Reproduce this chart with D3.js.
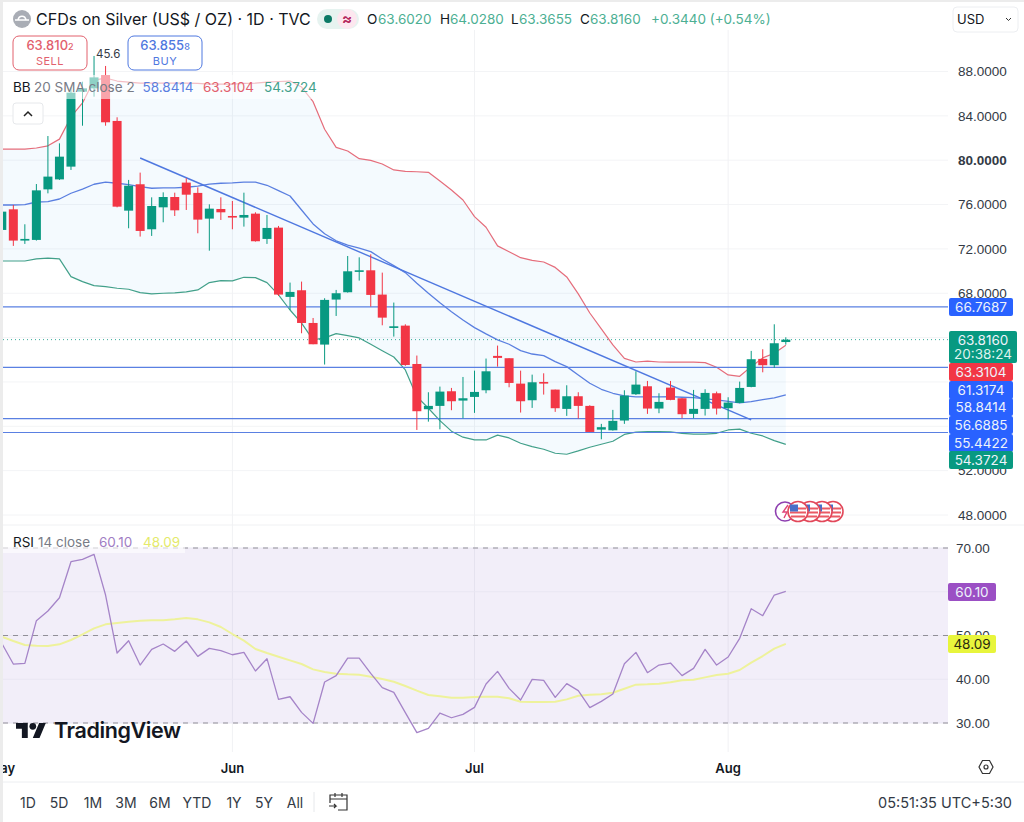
<!DOCTYPE html>
<html lang="en">
<head>
<meta charset="UTF-8">
<title>CFDs on Silver</title>
<script src="https://cdnjs.cloudflare.com/ajax/libs/d3/7.8.5/d3.min.js"></script>
<style>
    html, body { margin: 0; padding: 0; background: #fff; }
    svg { display: block; font-family: Inter, "Noto Sans", sans-serif; }
    text { fill: #333a45; }
</style>
</head>
<body>
<svg id="chart" width="1024" height="822"></svg>
<script>
// daily bars
const opens = [73.71,75.57,72.75,72.81,77.37,78.27,79.42,86.18,86.48,87.68,
    83.54,75.45,77.83,73.77,75.75,76.68,77.98,77.05,74.73,75.60,
    74.97,74.82,75.18,72.90,73.92,67.67,68.27,65.32,63.37,67.43,
    68.09,69.95,70.07,67.88,64.87,65.08,61.62,57.54,57.84,59.16,
    58.32,58.65,59.25,62.35,62.14,59.85,58.35,60.00,59.31,57.57,
    58.71,57.84,55.70,55.64,56.52,58.89,59.61,57.60,59.49,58.53,
    57.12,57.57,58.98,57.63,58.11,59.55,62.08,61.51,63.60];
const closes = [75.36,72.75,72.90,77.28,78.52,80.32,86.09,86.48,87.47,83.42,
    75.81,77.70,73.62,75.87,76.68,75.48,76.89,74.64,75.63,75.30,
    74.85,75.06,72.69,73.89,67.88,68.12,65.32,63.40,67.40,68.00,
    69.98,70.07,67.85,65.80,65.02,61.53,57.36,57.84,59.13,58.26,
    58.53,59.10,60.96,62.17,59.91,58.26,59.97,59.85,57.63,58.71,
    57.84,55.49,55.92,56.49,58.77,59.76,57.60,58.20,58.38,57.09,
    57.57,59.01,57.60,58.14,59.46,62.05,61.51,63.49,63.816];
const highs = [75.50,75.96,74.22,77.85,82.18,81.52,86.57,87.08,89.40,88.50,
    83.87,78.22,78.88,76.65,77.10,77.07,78.37,77.55,76.02,76.65,
    76.32,77.07,75.30,75.06,74.07,68.96,69.05,65.77,67.55,68.30,
    71.36,71.24,71.51,69.86,67.16,65.20,62.38,59.07,59.58,59.46,
    60.45,61.02,62.11,63.28,62.14,61.02,60.66,60.78,59.31,59.70,
    59.07,57.90,56.22,57.48,59.25,60.96,60.09,58.98,60.09,58.53,
    59.28,59.34,59.13,58.62,60.03,62.80,62.95,65.20,64.028];
const lows = [73.60,72.27,72.45,72.75,77.01,78.22,79.12,83.11,85.73,83.11,
    75.75,73.86,73.11,73.17,74.40,74.97,75.51,73.41,71.84,74.61,
    73.77,74.01,72.66,72.45,67.76,66.49,64.39,63.40,61.57,65.95,
    68.06,69.14,66.79,65.11,64.09,61.45,55.67,56.42,55.73,57.45,
    56.73,57.21,58.98,61.38,59.52,57.24,57.66,58.86,57.30,56.94,
    56.70,55.49,54.83,55.61,56.22,58.83,57.12,57.18,58.35,56.73,
    56.73,56.97,57.06,56.64,58.08,59.52,60.87,61.27,63.3655];

// bollinger bands
const bbUpper = [81.0,81.0,81.0,81.1,81.3,81.9,83.9,85.16,87.23,87.41,
    87.14,87.05,86.96,86.96,86.96,86.96,86.96,86.92,86.87,86.87,
    86.87,86.92,86.96,87.05,87.1,87.14,86.6,85.28,82.79,81.16,
    80.83,80.14,79.99,79.66,79.12,79.0,78.96,78.91,78.12,77.31,
    76.41,74.91,73.95,72.27,71.75,71.21,70.96,70.82,70.33,69.47,
    67.94,66.22,64.78,63.34,62.12,61.8,61.87,61.8,61.78,61.78,
    61.78,61.74,61.33,60.63,60.51,61.38,62.17,62.59,63.3104];
const bbBasis = [75.96,75.96,75.99,76.23,76.26,76.5,77.02,77.4,77.83,78.03,
    77.92,77.79,77.61,77.47,77.5,77.5,77.56,77.67,77.85,77.92,
    77.95,78.03,78.03,77.74,77.25,76.77,75.51,74.25,73.37,72.73,
    72.35,72.06,71.75,71.09,70.49,69.86,68.9,68.0,67.15,66.34,
    65.59,64.9,64.33,63.79,63.4,62.82,62.52,62.37,61.83,61.38,
    60.63,59.88,59.34,58.98,58.74,58.65,58.65,58.65,58.67,58.62,
    58.59,58.47,58.38,58.24,58.11,58.23,58.41,58.56,58.8414];
const bbLower = [70.91,70.91,70.91,71.1,71.16,71.1,69.5,69.05,68.69,68.6,
    68.45,68.36,68.05,67.94,68.0,68.03,68.12,68.3,68.96,69.14,
    69.11,69.44,69.41,68.96,67.85,66.49,65.3,63.79,63.97,64.36,
    64.18,63.97,63.4,62.82,62.25,61.08,58.67,57.63,56.51,55.56,
    55.02,54.77,54.77,55.2,54.95,54.47,54.17,53.93,53.57,53.48,
    53.78,54.11,54.38,54.65,55.27,55.47,55.52,55.52,55.49,55.37,
    55.29,55.29,55.37,55.67,55.74,55.37,55.13,54.71,54.3724];

// rsi pane
const rsiValues = [48.2,43.48,43.63,53.39,55.6,58.64,66.87,67.4,68.55,59.25,
    45.99,48.8,43.25,46.83,48.05,46.38,48.74,45.23,47.06,46.53,
    45.6,46.15,41.88,44.7,35.4,36.0,32.43,29.92,39.37,40.82,
    44.85,44.85,41.35,38.07,37.0,32.36,27.79,28.78,32.28,31.2,
    31.98,33.58,38.91,41.8,37.92,35.25,39.98,39.75,35.86,38.99,
    37.39,33.5,34.95,36.62,43.56,46.15,41.5,43.25,43.71,40.82,
    42.49,46.83,43.25,45.08,49.35,56.13,54.53,59.25,60.1];
const rsiMa = [49.73,48.74,47.82,47.67,47.6,47.98,48.97,50.26,51.63,52.55,
    52.85,53.16,53.39,53.46,53.46,53.69,53.99,53.69,53.0,51.94,
    50.34,48.82,46.91,45.99,45.16,44.32,43.48,42.26,41.65,41.27,
    41.12,41.04,40.59,40.05,39.44,38.45,37.39,36.4,36.09,35.79,
    35.79,35.94,36.02,36.02,35.64,34.87,34.8,34.8,34.87,35.4,
    36.24,36.47,36.55,36.93,37.84,38.76,38.83,38.99,39.29,39.75,
    39.9,40.43,40.97,41.27,42.11,43.79,45.31,46.99,48.09];

const priceGrid = [88,84,80,76,72,68,64,60,56,52,48];
const priceLabels = [88,84,80,76,72,68,52,48];   // the others sit fully under the tags
const rsiGrid = [70,60,50,40,30];
const rsiLabels = [70,50,40,30];
const rsiBands = [70,50,30];
const monthNames = ["May","Jun","Jul","Aug"];
const monthBars = [0,20,41,63];
const hLines = [66.7687,61.3174,56.6885,55.4422];
const trendBars = [12,65];
const trendPrices = [80.2,56.58];
const lastPrice = 63.816;
const rangeButtons = ["1D","5D","1M","3M","6M","YTD","1Y","5Y","All"];
const rangeCenters = [28,59,93,126,160,197,234,264,295];

const GREEN = "#089981", RED = "#f23645", BLUE = "#2962ff";

const svg = d3.select("#chart");
const x = d3.scaleLinear().domain([0,68]).range([1.8,785.8]);
const y = d3.scaleLinear().domain([48,88]).range([515,71.5]);
const yRsi = d3.scaleLinear().domain([30,70]).range([723,548]);
const bars = d3.range(opens.length);

// frame edge of the screenshot
svg.append("rect").attr("width",1024).attr("height",822).attr("fill","#fff");
svg.append("rect").attr("width",3).attr("height",822).attr("fill","#ececec");
svg.append("rect").attr("width",1024).attr("height",2).attr("fill","#ececec");

svg.append("defs").append("clipPath").attr("id","plot")
    .append("rect").attr("x",3).attr("y",0).attr("width",945).attr("height",790);

const plot = svg.append("g").attr("clip-path","url(#plot)");

// grid
plot.append("g").selectAll("line").data(priceGrid).join("line")
    .attr("x1",3).attr("x2",948).attr("y1",d=>y(d)).attr("y2",d=>y(d))
    .attr("stroke","#f3f4f6");
plot.append("g").selectAll("line").data(monthBars.slice(1)).join("line")
    .attr("x1",d=>x(d)).attr("x2",d=>x(d)).attr("y1",30).attr("y2",752)
    .attr("stroke","#f1f2f4");

// band fill and lines
plot.append("path").datum(bars)
    .attr("fill","#2196f3").attr("fill-opacity",0.05)
    .attr("d",d3.area().x(i=>x(i)).y0(i=>y(bbLower[i])).y1(i=>y(bbUpper[i])));

function seriesLine(yScale, values, color, width) {
    plot.append("path").datum(bars).attr("fill","none")
        .attr("stroke",color).attr("stroke-width",width).attr("stroke-linejoin","round")
        .attr("d",d3.line().x(i=>x(i)).y(i=>yScale(values[i])));
}
seriesLine(y, bbUpper, "#e56d7b", 1.2);
seriesLine(y, bbBasis, "#5a7fe0", 1.3);
seriesLine(y, bbLower, "#42a08a", 1.2);

// horizontal price lines
plot.append("g").selectAll("line").data(hLines).join("line")
    .attr("x1",3).attr("x2",948).attr("y1",d=>y(d)).attr("y2",d=>y(d))
    .attr("stroke","#5a80e2").attr("stroke-width",1.2);
plot.append("line").attr("x1",3).attr("x2",948).attr("y1",y(lastPrice)).attr("y2",y(lastPrice))
    .attr("stroke",GREEN).attr("stroke-dasharray","1 3").attr("opacity",0.8);

// trend line
plot.append("line").attr("x1",x(trendBars[0])).attr("y1",y(trendPrices[0]))
    .attr("x2",x(trendBars[1])).attr("y2",y(trendPrices[1]))
    .attr("stroke","#4f78e0").attr("stroke-width",1.4);

// candles
const candle = plot.append("g").selectAll("g").data(bars).join("g")
    .attr("fill",i=>closes[i]>=opens[i]?GREEN:RED)
    .attr("stroke",i=>closes[i]>=opens[i]?GREEN:RED);
candle.append("line").attr("x1",i=>x(i)).attr("x2",i=>x(i))
    .attr("y1",i=>y(highs[i])).attr("y2",i=>y(lows[i])).attr("stroke-width",1);
candle.append("rect").attr("x",i=>x(i)-4.5).attr("width",9).attr("stroke","none")
    .attr("y",i=>y(Math.max(opens[i],closes[i])))
    .attr("height",i=>Math.max(1.6,Math.abs(y(opens[i])-y(closes[i]))));

// rsi pane
plot.append("rect").attr("x",3).attr("width",945)
    .attr("y",yRsi(70)).attr("height",yRsi(30)-yRsi(70)).attr("fill","#7e57c2").attr("fill-opacity",0.1);
plot.append("g").selectAll("line").data(rsiGrid).join("line")
    .attr("x1",3).attr("x2",948).attr("y1",d=>yRsi(d)).attr("y2",d=>yRsi(d))
    .attr("stroke","#e9e6f2");
plot.append("g").selectAll("line").data(rsiBands).join("line")
    .attr("x1",3).attr("x2",948).attr("y1",d=>yRsi(d)).attr("y2",d=>yRsi(d))
    .attr("stroke","#918f98").attr("stroke-dasharray","5 5");
seriesLine(yRsi, rsiMa, "#eef29b", 2);
seriesLine(yRsi, rsiValues, "#a584c8", 1.3);

// pane divider
svg.append("line").attr("x1",3).attr("x2",1024).attr("y1",525).attr("y2",525).attr("stroke","#f0f1f3");

// axes on the right
function styleAxis(g) {
    g.select(".domain").remove();
    g.selectAll(".tick line").remove();
    g.selectAll(".tick text").attr("font-size",13.5).attr("font-family","inherit").style("fill","#333a45");
}
svg.append("g").attr("transform","translate(949,0)")
    .call(d3.axisRight(y).tickValues(priceLabels).tickSize(0).tickPadding(9).tickFormat(d3.format(".4f")))
    .call(styleAxis)
    .selectAll(".tick text").attr("font-weight",d=>d===80?600:400);
svg.append("g").attr("transform","translate(949,0)")
    .call(d3.axisRight(yRsi).tickValues(rsiLabels).tickSize(0).tickPadding(7).tickFormat(d3.format(".2f")))
    .call(styleAxis);

// month labels
svg.append("g").attr("clip-path","url(#plot)").selectAll("text").data(monthBars).join("text")
    .attr("x",d=>x(d)).attr("y",773).attr("text-anchor","middle")
    .attr("font-size",13).attr("font-weight",600).style("fill","#131722")
    .text((d,i)=>monthNames[i]);

function tag(x0, y0, w, h, color, label, textColor) {
    svg.append("rect").attr("x",x0).attr("y",y0).attr("width",w).attr("height",h)
        .attr("rx",2).attr("fill",color);
    svg.append("text").attr("x",x0+w/2).attr("y",y0+h/2+4.5).attr("text-anchor","middle")
        .attr("font-size",13.5).style("fill",textColor||"#eef3fb").text(label);
}
// price tags, stacked as the chart lays them out
tag(949,298,64,18,BLUE,"66.7687");
svg.append("rect").attr("x",949).attr("y",331).attr("width",68).attr("height",32).attr("rx",2).attr("fill",GREEN);
svg.append("text").attr("x",983).attr("y",344.5).attr("text-anchor","middle").attr("font-size",13.5).style("fill","#eef3fb").text("63.8160");
svg.append("text").attr("x",983).attr("y",358.5).attr("text-anchor","middle").attr("font-size",13.5).style("fill","#dff3ee").text("20:38:24");
tag(949,363,64,18,RED,"63.3104");
tag(949,381,64,18,BLUE,"61.3174");
tag(949,398,64,18,BLUE,"58.8414");
tag(949,416,64,18,BLUE,"56.6885");
tag(949,434,64,18,BLUE,"55.4422");
tag(949,451,64,18,GREEN,"54.3724");
tag(948,583,48,18,"#9b4fc4","60.10");
tag(948,635,48,18,"#e8f53c","48.09","#2a2a10");

// header
svg.append("circle").attr("cx",22).attr("cy",19).attr("r",9).attr("fill","#a9adb5");
svg.append("path").attr("d","M15 20h14M18 20c1-5 7-5 8 0").attr("fill","none").attr("stroke","#fff").attr("stroke-width",1.6);
svg.append("text").attr("x",36).attr("y",25).attr("font-size",16).style("fill","#131722")
    .text("CFDs on Silver (US$ / OZ) · 1D · TVC");

svg.append("rect").attr("x",317).attr("y",9).attr("width",42).attr("height",20).attr("rx",10).attr("fill","#e6f3f0");
svg.append("circle").attr("cx",328).attr("cy",19).attr("r",4).attr("fill","#0b7a66");
svg.append("circle").attr("cx",347).attr("cy",19).attr("r",10).attr("fill","#fde7ef");
svg.append("text").attr("x",347).attr("y",24).attr("text-anchor","middle").attr("font-size",15).attr("font-weight",700).style("fill","#b5285e").text("≈");

const ohlcParts = [["O",367,"#131722"],["63.6020",378,"#4caf93"],["H",440,"#131722"],["64.0280",450,"#4caf93"],
    ["L",511,"#131722"],["63.3655",519,"#4caf93"],["C",580,"#131722"],["63.8160",590,"#4caf93"],
    ["+0.3440 (+0.54%)",651,"#4caf93"]];
const ohlc = svg.append("text").attr("y",24).attr("font-size",13.5);
ohlc.selectAll("tspan").data(ohlcParts).join("tspan")
    .attr("x",d=>d[1]).style("fill",d=>d[2]).text(d=>d[0]);

svg.append("rect").attr("x",953).attr("y",7).attr("width",65).attr("height",25).attr("rx",4)
    .attr("fill","#fff").attr("stroke","#eceef1");
svg.append("text").attr("x",957).attr("y",24).attr("font-size",13).style("fill","#131722").text("USD");
svg.append("path").attr("d","M1006 18l2.5 2.5 2.5-2.5").attr("fill","none").attr("stroke","#333");

// buy and sell boxes
function tradeBox(x0, color, main, small, word) {
    svg.append("rect").attr("x",x0).attr("y",36).attr("width",74).attr("height",34).attr("rx",6)
        .attr("fill","#fff").attr("stroke",color);
    const t = svg.append("text").attr("x",x0+37).attr("y",50).attr("text-anchor","middle")
        .attr("font-size",13).attr("font-weight",500).style("fill",color);
    t.append("tspan").text(main);
    t.append("tspan").attr("font-size",9).text(small);
    svg.append("text").attr("x",x0+37).attr("y",65).attr("text-anchor","middle")
        .attr("font-size",11).attr("letter-spacing",0.5).style("fill",color).text(word);
}
tradeBox(13,"#e2606d","63.810","2","SELL");
tradeBox(128,"#4f78e0","63.855","8","BUY");
svg.append("text").attr("x",96).attr("y",57.5).attr("font-size",11.5).style("fill","#333a45").text("45.6");

// indicator legends sit on a see-through strip
svg.append("rect").attr("x",3).attr("y",75).attr("width",320).attr("height",24).attr("fill","#fff").attr("opacity",0.55);
const bbLegend = [["BB",13,"#131722"],["20 SMA close 2",34,"#787b86"],["58.8414",142.5,"#5a7fe0"],["63.3104",203,"#e2606d"],["54.3724",264,"#42a08a"]];
svg.append("g").selectAll("text").data(bbLegend).join("text")
    .attr("x",d=>d[1]).attr("y",92).attr("font-size",13.5).style("fill",d=>d[2]).text(d=>d[0]);
svg.append("rect").attr("x",13).attr("y",103).attr("width",30).attr("height",21).attr("rx",3).attr("fill","#fff").attr("stroke","#e6e8eb");
svg.append("path").attr("d","M24 116l4-4 4 4").attr("fill","none").attr("stroke","#222").attr("stroke-width",1.5);

svg.append("rect").attr("x",3).attr("y",533).attr("width",182).attr("height",20).attr("fill","#fff").attr("opacity",0.6);
const rsiLegend = [["RSI",13,"#131722"],["14 close",38,"#787b86"],["60.10",99,"#9f7dc4"],["48.09",143,"#e4ea6a"]];
svg.append("g").selectAll("text").data(rsiLegend).join("text")
    .attr("x",d=>d[1]).attr("y",547).attr("font-size",13.5).style("fill",d=>d[2]).text(d=>d[0]);

// event badges on the price pane
const badgeCx = [833,822,810,798];
svg.append("circle").attr("cx",785).attr("cy",511.5).attr("r",9.5).attr("fill","#fff").attr("stroke","#8e3fb0").attr("stroke-width",1.6);
svg.append("path").attr("d","M788 505l-5 7h4l-3 6").attr("fill","none").attr("stroke","#e0457b").attr("stroke-width",1.4);
badgeCx.forEach(cx => {
    const b = svg.append("g").attr("transform",`translate(${cx},511.5)`);
    b.append("circle").attr("r",10).attr("fill","#fff").attr("stroke","#e2485a").attr("stroke-width",1.6);
    b.append("path").attr("d","M-8 -3h16M-8 1h16M-7 5h14").attr("stroke","#ea5a64").attr("stroke-width",1.8);
    b.append("rect").attr("x",-8).attr("y",-7).attr("width",8).attr("height",7).attr("fill","#4a6fc8");
});

// logo
const logo = svg.append("g").attr("transform","translate(16,719.6) scale(0.84)");
logo.append("path").attr("d","M14 22H7V11H0V4h14v18zM28 22h-8l7.5-18h8L28 22z").attr("fill","#131722");
logo.append("circle").attr("cx",20).attr("cy",8).attr("r",4).attr("fill","#131722");
svg.append("text").attr("x",54).attr("y",738).attr("font-size",21.5).attr("font-weight",600)
    .attr("letter-spacing",-0.4).style("fill","#131722").text("TradingView");

// settings hexagon
svg.append("path").attr("d","M979 767l3.5-6.5h7l3.5 6.5-3.5 6.5h-7z").attr("fill","none").attr("stroke","#333").attr("stroke-width",1.2);
svg.append("circle").attr("cx",986).attr("cy",767).attr("r",2).attr("fill","none").attr("stroke","#333").attr("stroke-width",1.2);

// bottom bar
svg.append("line").attr("x1",3).attr("x2",1024).attr("y1",782).attr("y2",782).attr("stroke","#eceef1");
svg.append("g").selectAll("text").data(rangeButtons).join("text")
    .attr("x",(d,i)=>rangeCenters[i]).attr("y",808).attr("text-anchor","middle")
    .attr("font-size",14).style("fill","#333a45").text(d=>d);
svg.append("line").attr("x1",314).attr("x2",314).attr("y1",792).attr("y2",812).attr("stroke","#e6e8eb");
svg.append("path").attr("d","M330 803v-8h17v15h-9M330 799h17M335 793v4M342 793v4M329 806h7l-2-2M336 806l-2 2")
    .attr("fill","none").attr("stroke","#333").attr("stroke-width",1.2);
svg.append("text").attr("x",1012).attr("y",808).attr("text-anchor","end").attr("font-size",14.5)
    .style("fill","#333a45").text("05:51:35 UTC+5:30");
</script>
</body>
</html>
